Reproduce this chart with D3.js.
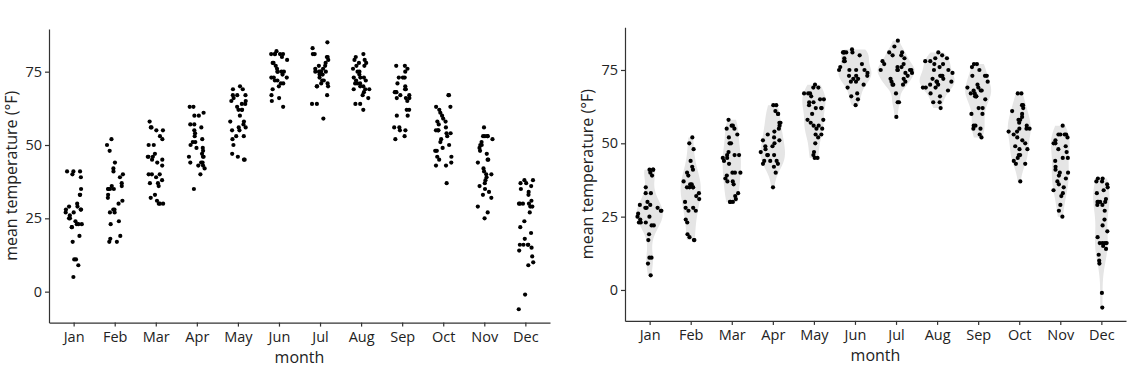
<!DOCTYPE html>
<html>
<head>
<meta charset="utf-8">
<script src="https://cdn.jsdelivr.net/npm/d3@7"></script>
<style>
  body { margin: 0; background: #fff; }
  svg { display: block; font-family: "Open Sans", sans-serif; }
</style>
</head>
<body>
<svg id="chart" width="1138" height="378"></svg>
<script>
// daily mean temperatures (°F), one array per month
const months = ['Jan', 'Feb', 'Mar', 'Apr', 'May', 'Jun', 'Jul', 'Aug', 'Sep', 'Oct', 'Nov', 'Dec'];
const tJan = [41, 41, 41, 40, 39, 35, 33, 33, 30, 29, 29, 28, 28, 28, 27, 27, 26, 25, 25, 24, 23, 23, 23, 22, 22, 19, 17, 11, 11, 9, 5];
const tFeb = [52, 50, 48, 44, 42, 41, 40, 39, 37, 36, 36, 35, 35, 35, 35, 33, 32, 31, 30, 28, 28, 27, 27, 24, 23, 19, 18, 17, 17];
const tMar = [58, 56, 56, 55, 55, 53, 52, 50, 50, 47, 46, 46, 46, 45, 45, 44, 43, 40, 40, 40, 39, 38, 37, 37, 36, 33, 32, 31, 30, 30, 30];
const tApr = [63, 63, 61, 60, 60, 57, 57, 56, 55, 54, 53, 52, 51, 51, 50, 49, 49, 48, 47, 46, 46, 46, 44, 44, 44, 43, 43, 42, 40, 35];
const tMay = [70, 69, 69, 67, 67, 67, 66, 65, 65, 64, 64, 63, 62, 62, 62, 60, 58, 58, 57, 56, 56, 55, 55, 53, 53, 52, 50, 47, 46, 45, 45];
const tJun = [82, 81, 81, 81, 81, 81, 80, 79, 78, 78, 77, 76, 75, 75, 75, 75, 74, 73, 73, 73, 72, 72, 71, 71, 70, 69, 67, 66, 65, 63];
const tJul = [85, 83, 81, 81, 80, 80, 79, 78, 77, 77, 76, 76, 75, 75, 75, 75, 75, 74, 74, 73, 72, 72, 71, 71, 70, 70, 70, 67, 64, 64, 59];
const tAug = [81, 80, 79, 79, 78, 78, 77, 77, 76, 75, 75, 74, 73, 73, 73, 72, 72, 71, 71, 71, 70, 70, 69, 69, 69, 68, 67, 66, 64, 64, 62];
const tSep = [77, 77, 76, 75, 73, 73, 73, 71, 70, 69, 69, 68, 68, 68, 67, 67, 66, 66, 66, 65, 62, 62, 60, 60, 56, 56, 55, 55, 53, 52];
const tOct = [67, 67, 63, 63, 62, 61, 60, 59, 58, 58, 57, 56, 55, 55, 55, 54, 54, 53, 52, 51, 50, 49, 48, 48, 46, 46, 45, 44, 43, 43, 37];
const tNov = [56, 53, 53, 53, 53, 52, 51, 50, 50, 49, 48, 47, 45, 45, 44, 42, 41, 40, 40, 39, 38, 37, 36, 35, 34, 33, 32, 29, 27, 25];
const tDec = [38, 38, 37, 37, 36, 35, 34, 33, 31, 30, 30, 30, 30, 29, 29, 27, 24, 22, 20, 18, 16, 16, 16, 16, 15, 14, 12, 10, 9, -1, -6];
const temps = [tJan, tFeb, tMar, tApr, tMay, tJun, tJul, tAug, tSep, tOct, tNov, tDec];
const yTicks = [0, 25, 50, 75];

let svg = d3.select('#chart');

// gaussian kernel density, bandwidth like R's nrd0
function bwNrd0(v) {
    let s = d3.deviation(v);
    let iqr = (d3.quantile(v, 0.75) - d3.quantile(v, 0.25)) / 1.34;
    let lo = Math.min(s, iqr) || s || 1;
    return 0.9 * lo * Math.pow(v.length, -0.2);
}
function densityFn(v) {
    let h = bwNrd0(v);
    let k = 1 / (v.length * h * Math.sqrt(2 * Math.PI));
    return y => k * d3.sum(v, d => Math.exp(-0.5 * ((y - d) / h) ** 2));
}

let dens = temps.map(v => {
    let f = densityFn(v);
    let lo = d3.min(v), hi = d3.max(v);
    let grid = d3.range(0, 101).map(i => lo + (hi - lo) * i / 100);
    return { f: f, grid: grid.map(y => ({ y: y, d: f(y) })) };
});
let maxDens = d3.max(dens, m => d3.max(m.grid, p => p.d));

function drawPanel(opts) {
    let g = svg.append('g');

    let x = d3.scalePoint()
        .domain(months)
        .range([opts.left, opts.right])
        .padding(0.6);
    let y = d3.scaleLinear()
        .domain([-10.55, 89.55])
        .range([opts.bottom, opts.top]);
    let half = 0.45 * x.step();
    let rnd = d3.randomLcg(opts.seed);

    if (opts.sina) {
        let area = d3.area()
            .curve(d3.curveBasis)
            .y(p => y(p.y))
            .x0(p => -half * p.d / maxDens)
            .x1(p => half * p.d / maxDens);
        g.selectAll('.violin')
            .data(dens)
            .enter().append('path')
            .attr('class', 'violin')
            .attr('transform', (d, i) => `translate(${x(months[i])},0)`)
            .attr('d', d => area(d.grid))
            .attr('fill', '#e5e5e5');
    }

    let pts = [];
    temps.forEach((v, i) => {
        v.forEach(t => {
            let u = rnd() * 2 - 1;
            let w = opts.sina ? half * dens[i].f(t) / maxDens : 0.2 * x.step();
            pts.push({ x: x(months[i]) + u * w, t: t });
        });
    });
    g.selectAll('.pt')
        .data(pts)
        .enter().append('circle')
        .attr('class', 'pt')
        .attr('cx', d => d.x)
        .attr('cy', d => y(d.t))
        .attr('r', 2.1)
        .attr('fill', '#000');

    let ax = g.append('g')
        .attr('transform', `translate(0,${opts.bottom})`)
        .call(d3.axisBottom(x).tickSize(4).tickSizeOuter(0).tickPadding(5));
    let ay = g.append('g')
        .attr('transform', `translate(${opts.left},0)`)
        .call(d3.axisLeft(y).tickValues(yTicks).tickSize(4).tickSizeOuter(0).tickPadding(3));

    [ax, ay].forEach(a => {
        a.select('.domain').attr('stroke', '#333').attr('stroke-width', 1.2);
        a.selectAll('.tick line').attr('stroke', '#333').attr('stroke-width', 1.2);
        a.selectAll('.tick text')
            .attr('fill', '#222')
            .style('font-size', '14.5px')
            .style('font-family', '"Open Sans", sans-serif');
    });

    g.append('text')
        .attr('x', (opts.left + opts.right) / 2)
        .attr('y', opts.bottom + 40)
        .attr('text-anchor', 'middle')
        .attr('fill', '#222')
        .style('font-size', '16px')
        .text('month');

    g.append('text')
        .attr('transform', `translate(${opts.left - 32},${(opts.top + opts.bottom) / 2}) rotate(-90)`)
        .attr('text-anchor', 'middle')
        .attr('fill', '#222')
        .style('font-size', '16px')
        .text('mean temperature (°F)');
}

drawPanel({ left: 49, right: 550, top: 29.0, bottom: 322.6, sina: false, seed: 0.17 });
drawPanel({ left: 625, right: 1126, top: 27.3, bottom: 320.9, sina: true, seed: 0.53 });
</script>
</body>
</html>
